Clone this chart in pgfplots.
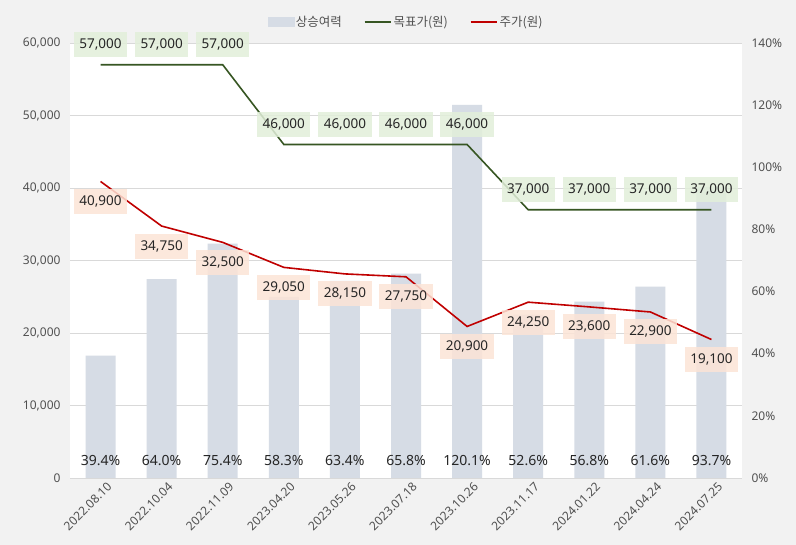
\documentclass[border=0pt]{standalone}
\usepackage{pgfplots}
\pgfplotsset{compat=1.18}
\usepackage{fontspec}
\setmainfont{Noto Sans}
\newfontfamily\cjk{Noto Sans CJK KR}
\definecolor{bg}{HTML}{F2F2F2}
\definecolor{barc}{HTML}{D6DCE5}
\definecolor{tgt}{HTML}{375623}
\definecolor{prc}{HTML}{C00000}
\definecolor{tgtfill}{HTML}{E2EFDA}
\definecolor{prcfill}{HTML}{FCE4D6}
\definecolor{tickc}{HTML}{505050}
\definecolor{txt}{HTML}{262626}
\definecolor{gridc}{HTML}{D9D9D9}
\begin{document}
\begin{tikzpicture}[x=1bp,y=1bp]
\fill[bg] (0,0) rectangle (796,545);
\pgfplotsset{
  base/.style={
    at={(70bp,67bp)}, anchor=south west, width=672bp, height=435bp, scale only axis,
    xmin=-0.5, xmax=10.5, xtick={0,...,10},
    major tick length=0, scaled y ticks=false,
    /pgf/number format/.cd, 1000 sep={,}, assume math mode=true,
  }
}
% axis 1: background, grid, left ticks, dates
\begin{axis}[base, ymin=0, ymax=60000, ytick={0,10000,...,60000},
  ymajorgrids, grid style={gridc, line width=0.8bp},
  axis background/.style={fill=white},
  axis y line*=left, axis x line*=bottom,
  x axis line style={gridc, line width=0.8bp}, y axis line style={draw=none},
  xticklabels={2022.08.10,2022.10.04,2022.11.09,2023.04.20,2023.05.26,2023.07.18,2023.10.26,2023.11.17,2024.01.22,2024.04.24,2024.07.25},
  xticklabel style={rotate=45, anchor=north east, text=tickc, font=\fontsize{12bp}{14bp}\selectfont, xshift=5bp, yshift=-3bp},
  yticklabel style={text=tickc, font=\fontsize{12bp}{14bp}\selectfont, xshift=-6bp},
]
\end{axis}
% axis 2: bars on right axis
\begin{axis}[base, ymin=0, ymax=140, ytick={0,20,...,140},
  axis y line*=right, axis x line=none, y axis line style={draw=none},
  yticklabel={\pgfmathprintnumber{\tick}\%},
  yticklabel style={text=tickc, font=\fontsize{12bp}{14bp}\selectfont, xshift=6bp},
]
\addplot[ybar, bar width=30bp, fill=barc, draw=none] coordinates {
(0,39.4) (1,64.0) (2,75.4) (3,58.3) (4,63.4) (5,65.8) (6,120.1) (7,52.6) (8,56.8) (9,61.6) (10,93.7)};
\addplot[draw=none, point meta=explicit,
  nodes near coords={\pgfmathprintnumber[fixed,fixed zerofill,precision=1]{\pgfplotspointmeta}\%},
  every node near coord/.style={anchor=center, text=txt, font=\fontsize{14bp}{16bp}\selectfont}]
coordinates {
(0,5.5) [39.4] (1,5.5) [64.0] (2,5.5) [75.4] (3,5.5) [58.3] (4,5.5) [63.4] (5,5.5) [65.8]
(6,5.5) [120.1] (7,5.5) [52.6] (8,5.5) [56.8] (9,5.5) [61.6] (10,5.5) [93.7]};
\end{axis}
% axis 3: lines
\begin{axis}[base, ymin=0, ymax=60000, hide axis,
  legend style={at={(0.5,1)}, anchor=center, yshift=21bp, draw=none, fill=none,
    font=\cjk\fontsize{12.5bp}{14bp}\selectfont, text=tickc, legend columns=3,
    /tikz/every even column/.append style={column sep=20bp}},
  legend image code/.code={\draw[#1] (0bp,0bp) -- (26bp,0bp);},
]
\addlegendimage{legend image code/.code={\fill[barc] (0bp,-4.5bp) rectangle (26bp,4.5bp);}}
\addplot[tgt, line width=1.6bp, nodes near coords,
  every node near coord/.style={anchor=center, yshift=20bp, fill=tgtfill, fill opacity=0.85, text opacity=1, text=txt,
    inner xsep=5.5bp, inner ysep=0bp, minimum height=25bp, font=\fontsize{13.5bp}{15bp}\selectfont}]
coordinates {(0,57000) (1,57000) (2,57000) (3,46000) (4,46000) (5,46000) (6,46000) (7,37000) (8,37000) (9,37000) (10,37000)};
\addplot[prc, line width=1.6bp, nodes near coords,
  every node near coord/.style={anchor=center, yshift=-20bp, fill=prcfill, fill opacity=0.85, text opacity=1, text=txt,
    inner xsep=5.5bp, inner ysep=0bp, minimum height=25bp, font=\fontsize{13.5bp}{15bp}\selectfont}]
coordinates {(0,40900) (1,34750) (2,32500) (3,29050) (4,28150) (5,27750) (6,20900) (7,24250) (8,23600) (9,22900) (10,19100)};
\legend{상승여력, 목표가(원), 주가(원)}
\end{axis}
\end{tikzpicture}
\end{document}
